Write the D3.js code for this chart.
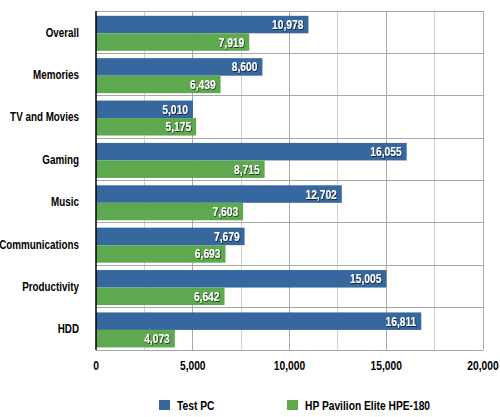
<!DOCTYPE html>
<html><head><meta charset="utf-8">
<script src="https://cdn.jsdelivr.net/npm/d3@7"></script>
<style>
body{margin:0;background:#fff;}
text{font-family:"Liberation Sans",Arial,sans-serif;}
</style></head>
<body><svg id="c" width="500" height="417"></svg>
<script>
const categories = ["Overall","Memories","TV and Movies","Gaming","Music","Communications","Productivity","HDD"];
const seriesNames = ["Test PC","HP Pavilion Elite HPE-180"];
const testPC = [10978,8600,5010,16055,12702,7679,15005,16811];
const hpElite = [7919,6439,5175,8715,7603,6693,6642,4073];
const xTicks = [0,5000,10000,15000,20000];
const colors = ["#36679f","#5ea84f"];

const svg = d3.select("#c");
const L = 96, R = 483, T = 11, B = 350;
const x = d3.scaleLinear().domain([0,20000]).range([L,R]);
const y = d3.scaleBand().domain(categories).range([T,B]);
const fmt = d3.format(",");
const SX = 0.82;

function ntext(px, py, str, anchor, size){
  return svg.append("text")
    .attr("transform", `translate(${px},${py}) scale(${SX},1)`)
    .attr("text-anchor", anchor).attr("font-size", size+"px").attr("font-weight","bold")
    .text(str);
}

const defs = svg.append("defs");
const f = defs.append("filter").attr("id","sh").attr("x","-20%").attr("y","-20%").attr("width","140%").attr("height","140%");
f.append("feDropShadow").attr("dx",0.8).attr("dy",0.8).attr("stdDeviation",0.6).attr("flood-color","#000").attr("flood-opacity",0.8);

const minor = d3.range(2500,20000,5000);
svg.selectAll(".mg").data(minor).join("line")
  .attr("x1",d=>x(d)).attr("x2",d=>x(d)).attr("y1",T).attr("y2",B)
  .attr("stroke","#d0d0d0").attr("stroke-width",1).attr("shape-rendering","crispEdges");
svg.selectAll(".Mg").data(xTicks.slice(1)).join("line")
  .attr("x1",d=>x(d)).attr("x2",d=>x(d)).attr("y1",T).attr("y2",B)
  .attr("stroke","#a8a8a8").attr("stroke-width",1).attr("shape-rendering","crispEdges");
const bounds = categories.map(c=>y(c)).concat([B]);
svg.selectAll(".hg").data(bounds).join("line")
  .attr("x1",L).attr("x2",R).attr("y1",d=>d).attr("y2",d=>d)
  .attr("stroke","#a8a8a8").attr("stroke-width",1).attr("shape-rendering","crispEdges");

const bh = 17.5, topPad = 4.8;
const data = categories.map((c,i)=>({c, v:[testPC[i],hpElite[i]]}));
data.forEach(d=>{
  d.v.forEach((v,j)=>{
    const y0 = y(d.c)+topPad+j*bh;
    svg.append("rect").attr("x",x(0)).attr("y",y0).attr("width",x(v)-x(0)).attr("height",bh)
      .attr("fill",colors[j]);
    ntext(x(v)-5, y0+bh/2+4.5, fmt(v), "end", 12.5)
      .attr("fill","#fff").attr("filter","url(#sh)");
  });
});

svg.append("line").attr("x1",L).attr("x2",L).attr("y1",T).attr("y2",B)
  .attr("stroke","#000").attr("stroke-width",1.5);

categories.forEach(c=>{
  ntext(79, y(c)+y.bandwidth()/2+4.5, c, "end", 12).attr("fill","#000");
});

xTicks.forEach(t=>{
  ntext(x(t), 369.5, fmt(t), "middle", 12.5).attr("fill","#000");
});

const lg = [{n:seriesNames[0],x:159,c:colors[0]},{n:seriesNames[1],x:287,c:colors[1]}];
lg.forEach(l=>{
  svg.append("rect").attr("x",l.x).attr("y",400).attr("width",11).attr("height",10).attr("fill",l.c);
  ntext(l.x+18, 410, l.n, "start", 12.5).attr("fill","#000");
});
</script></body></html>
